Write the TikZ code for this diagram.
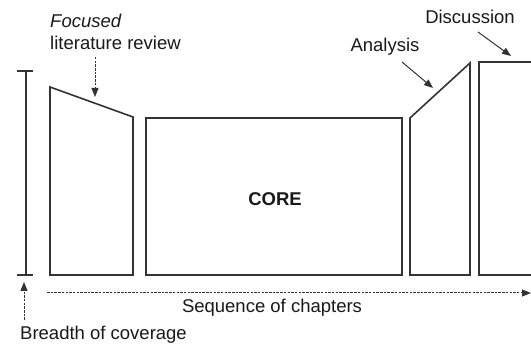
\documentclass[tikz,border=0pt]{standalone}
\usepackage{fontspec}
\setmainfont{Liberation Sans}
\usetikzlibrary{arrows.meta}
\begin{document}
\begin{tikzpicture}[x=1pt,y=-1pt,
  box/.style={draw=black!80, line width=1.6pt, line join=miter},
  lbl/.style={font=\fontsize{18.5}{20}\selectfont, text=black!90, inner sep=0pt},
  ptr/.style={-{Triangle[length=9pt,width=7pt]}, line width=1pt, draw=black!80},
  dptr/.style={ptr, dash pattern=on 2.5pt off 1.2pt}]
\useasboundingbox (0,0) rectangle (531,347);
\clip (0,0) rectangle (531,347);
% chapter shapes
\draw[box] (50,275) -- (50,87) -- (133,117) -- (133,275) -- cycle;
\draw[box] (146,118) rectangle (402,275);
\draw[box] (410,275) -- (410,118) -- (470,63) -- (470,275) -- cycle;
\draw[box] (479,62) rectangle (560,275);
% breadth bar
\draw[box] (26,71) -- (26,275);
\draw[box] (17,71) -- (33,71);
\draw[box] (17,275) -- (33,275);
% labels
\node[lbl, font=\fontsize{18.5}{20}\selectfont\itshape, anchor=west] (foc) at (50,21) {Focused};
\node[lbl, anchor=west] (lit) at (50,43) {literature review};
\node[lbl, font=\fontsize{18.5}{20}\selectfont\bfseries] (core) at (275,199) {CORE};
\node[lbl] (ana) at (385,47) {Analysis};
\node[lbl] (dis) at (470,17) {Discussion};
\node[lbl] (seq) at (272,308) {Sequence of chapters};
\node[lbl, anchor=west] (bre) at (20,335) {Breadth of coverage};
% arrow end points
\coordinate (litA) at (95,57);
\coordinate (litB) at (95,97);
\coordinate (anaA) at (402,62);
\coordinate (anaB) at (433,88);
\coordinate (disA) at (478,32);
\coordinate (disB) at (511,56);
\coordinate (seqA) at (47,293);
\coordinate (seqB) at (531,293);
\coordinate (breA) at (24,320);
\coordinate (breB) at (24,282);
% arrows
\draw[dptr] (litA) -- (litB);
\draw[ptr] (anaA) -- (anaB);
\draw[ptr] (disA) -- (disB);
\draw[dptr] (seqA) -- (seqB);
\draw[dptr] (breA) -- (breB);
\end{tikzpicture}
\end{document}
